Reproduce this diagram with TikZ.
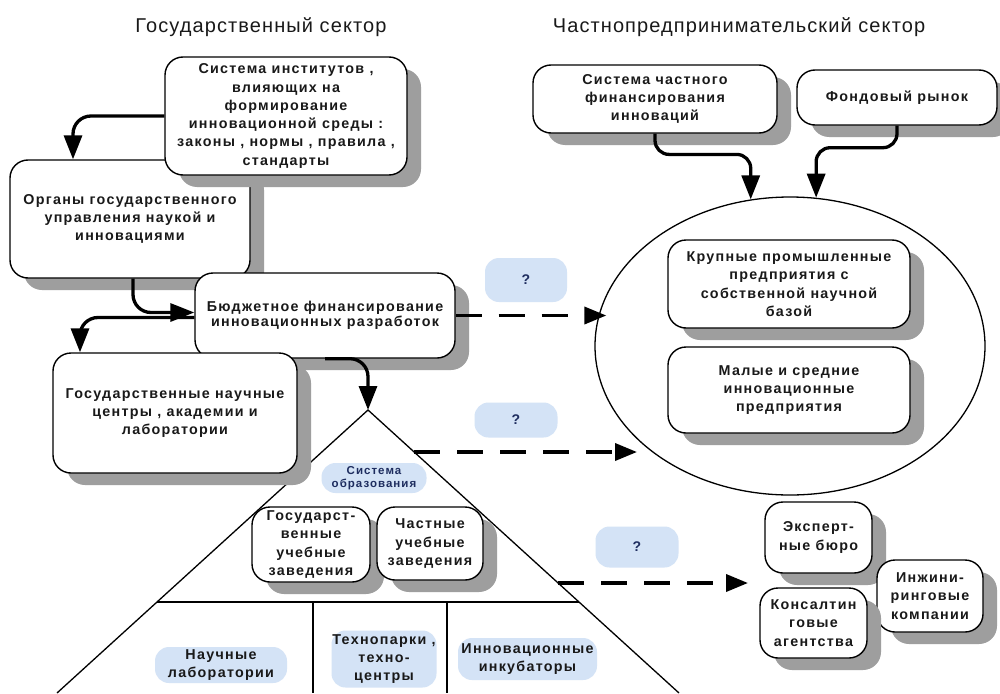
\documentclass[tikz,border=0pt]{standalone}
\usepackage{fontspec}
\setmainfont{Liberation Sans}
\newfontfamily\boxfont{Liberation Sans}[LetterSpace=9]
\newfontfamily\titlefont{Liberation Sans}[LetterSpace=5.5]
\usetikzlibrary{arrows.meta,shapes.geometric,shadows,calc}
\definecolor{pillc}{RGB}{212,227,246}
\definecolor{qcol}{RGB}{30,45,95}
\definecolor{shad}{RGB}{158,158,158}
\definecolor{txtc}{RGB}{25,25,25}
\newcommand\btxt{\boxfont\bfseries\fontsize{14.3}{18.3}\selectfont}
\newcommand\stxt{\boxfont\bfseries\fontsize{11.5}{13.5}\selectfont}
\begin{document}
\begin{tikzpicture}[x=1pt,y=-1pt,
  box/.style={draw, line width=1.4pt, rounded corners=18pt, fill=white, align=center,
    inner sep=0pt, font=\btxt, text=txtc,
    drop shadow={shadow xshift=14pt, shadow yshift=-12pt, fill=shad, opacity=1}},
  pillbox/.style={fill=pillc, rounded corners=14pt, align=center, inner sep=0pt, font=\btxt, text=txtc},
  qpill/.style={pillbox, font=\boxfont\bfseries\fontsize{14}{16}\selectfont, text=qcol},
  arr/.style={line width=3.3pt, rounded corners=18pt, -{Triangle[length=24pt,width=18pt]}},
  darr/.style={line width=3.6pt, dash pattern=on 26pt off 17pt, -{Triangle[length=22pt,width=17pt]}},
  thinline/.style={line width=1.3pt},
  ttl/.style={font=\titlefont\fontsize{20}{24}\selectfont, text=txtc}
]
\useasboundingbox (0,0) rectangle (1000,693);
\fill[white] (0,0) rectangle (1000,693);

% titles
\node[ttl] (t1) at (261,27) {Государственный сектор};
\node[ttl] (t2) at (739,27) {Частнопредпринимательский сектор};

% pyramid
\coordinate (apex) at (368,410);
\coordinate (tl) at (57,693);
\coordinate (tr) at (679,693);
\coordinate (hl) at (157,602);
\coordinate (hr) at (579,602);
\coordinate (v1t) at (313,602);
\coordinate (v1b) at (313,693);
\coordinate (v2t) at (447,602);
\coordinate (v2b) at (447,693);
\draw[thinline] (tl) -- (apex) -- (tr);
\draw[thinline] (hl) -- (hr);
\draw[thinline] (v1t) -- (v1b);
\draw[thinline] (v2t) -- (v2b);

% ellipse
\node[ellipse, draw, thinline, minimum width=390pt, minimum height=298pt, inner sep=0pt] (ell) at (790,346) {};

% state boxes
\node[box, minimum width=240pt, minimum height=118pt] (org) at (130,219)
  {Органы государственного\\управления наукой и\\инновациями};
\node[box, minimum width=242pt, minimum height=118pt] (si) at (286,116)
  {Система институтов ,\\влияющих на\\формирование\\инновационной среды :\\законы , нормы , правила ,\\стандарты};
\node[box, minimum width=260pt, minimum height=85pt, font=\boxfont\bfseries\fontsize{14.3}{15.5}\selectfont] (bud) at (325,315.5)
  {Бюджетное финансирование\\инновационных разработок};
\node[box, minimum width=244pt, minimum height=120pt] (gnc) at (175,413)
  {Государственные научные\\центры , академии и\\лаборатории};

% private boxes
\node[box, minimum width=244pt, minimum height=68pt] (sch) at (655,99)
  {Система частного\\финансирования\\инноваций};
\node[box, minimum width=200pt, minimum height=55pt] (fr) at (897,97.5)
  {Фондовый рынок};
\node[box, minimum width=242pt, minimum height=88pt] (kp) at (789,284)
  {Крупные промышленные\\предприятия с\\собственной научной\\базой};
\node[box, minimum width=242pt, minimum height=86pt] (ms) at (789,390)
  {Малые и средние\\инновационные\\предприятия};

% education
\node[pillbox, font=\stxt, text=qcol, minimum width=105pt, minimum height=30pt] (so) at (374,478)
  {Система\\образования};
\node[box, minimum width=118pt, minimum height=75pt] (gue) at (311,544.5)
  {Государст-\\венные\\учебные\\заведения};
\node[box, minimum width=106pt, minimum height=73pt] (cue) at (430,543.5)
  {Частные\\учебные\\заведения};
\node[pillbox, minimum width=132pt, minimum height=36pt] (nl) at (221,665)
  {Научные\\лаборатории};
\node[pillbox, minimum width=105pt, minimum height=57pt] (tp) at (384,659)
  {Технопарки ,\\техно-\\центры};
\node[pillbox, minimum width=139pt, minimum height=42pt] (ii) at (527.5,659)
  {Инновационные\\инкубаторы};

% consulting
\node[box, minimum width=107pt, minimum height=71pt] (eb) at (818.5,537.5)
  {Эксперт-\\ные бюро};
\node[box, minimum width=106pt, minimum height=72pt] (ik) at (930,596)
  {Инжини-\\ринговые\\компании};
\node[box, minimum width=107pt, minimum height=70pt] (ka) at (813.5,623)
  {Консалтин\\говые\\агентства};

% question pills
\node[qpill, minimum width=82pt, minimum height=44pt] (q1) at (526,280) {?};
\node[qpill, minimum width=83pt, minimum height=35pt] (q2) at (516,420) {?};
\node[qpill, minimum width=83pt, minimum height=41pt] (q3) at (637,547) {?};

% solid connectors
\draw[arr] (si.west) -| ([xshift=-57pt]org.north);
\draw[arr] ([xshift=3pt]org.south) |- ([yshift=3pt]bud.west);
\draw[arr] ([yshift=-2pt]bud.west) -| ([xshift=-95pt]gnc.north);
\draw[arr] (bud.south) -| (apex);
\draw[arr, rounded corners=14pt] (sch.south) |- ($(ell.105)+(0,-45)$) -- (ell.105);
\draw[arr, rounded corners=14pt] (fr.south) |- ($(ell.80)+(0,-50)$) -- (ell.80);

% dashed connectors
\coordinate (d2s) at (414,452);
\coordinate (d2e) at (637,452);
\coordinate (d3s) at (558,583);
\coordinate (d3e) at (748,583);
\draw[darr] (bud.east) -- ([xshift=12pt]bud.east -| ell.west);
\draw[darr] (d2s) -- (d2e);
\draw[darr] (d3s) -- (d3e);
\end{tikzpicture}
\end{document}
